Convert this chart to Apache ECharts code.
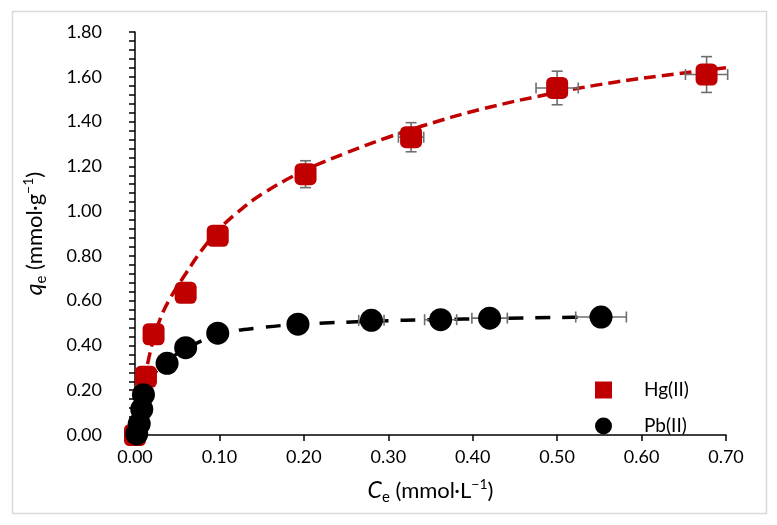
<!DOCTYPE html>
<html><head><meta charset="utf-8">
<script src="https://cdn.jsdelivr.net/npm/echarts/dist/echarts.min.js"></script>
<style>html,body{margin:0;padding:0;background:#fff}#c{width:777px;height:525px}</style>
</head><body><div id="c"></div>
<script>
// ---- data ----
const xTickLabels = ['0.00','0.10','0.20','0.30','0.40','0.50','0.60','0.70'];
const yTickLabels = ['0.00','0.20','0.40','0.60','0.80','1.00','1.20','1.40','1.60','1.80'];

const hgX    = [0.000, 0.013, 0.022, 0.060, 0.098, 0.202, 0.327, 0.500, 0.677];
const hgY    = [0.000, 0.260, 0.450, 0.635, 0.890, 1.165, 1.330, 1.550, 1.610];
const hgXErr = [0.000, 0.000, 0.000, 0.000, 0.000, 0.005, 0.015, 0.025, 0.025];
const hgYErr = [0.000, 0.000, 0.000, 0.000, 0.000, 0.060, 0.065, 0.075, 0.080];

const pbX    = [0.002, 0.005, 0.008, 0.010, 0.038, 0.060, 0.098, 0.193, 0.280, 0.362, 0.420, 0.552];
const pbY    = [0.005, 0.050, 0.115, 0.180, 0.320, 0.390, 0.455, 0.495, 0.512, 0.515, 0.522, 0.527];
const pbXErr = [0.000, 0.000, 0.000, 0.000, 0.000, 0.000, 0.000, 0.000, 0.015, 0.019, 0.021, 0.030];
const pbYErr = [0, 0, 0, 0, 0, 0, 0, 0, 0, 0, 0, 0];

const hgFitX = [0, 0.005, 0.01, 0.015, 0.022, 0.03, 0.04, 0.06, 0.08, 0.10, 0.12, 0.15, 0.20, 0.25, 0.30, 0.34, 0.41, 0.50, 0.57, 0.645, 0.70];
const hgFitY = [0, 0.12, 0.23, 0.32, 0.43, 0.52, 0.60, 0.72, 0.83, 0.92, 0.99, 1.075, 1.18, 1.26, 1.33, 1.38, 1.455, 1.53, 1.577, 1.615, 1.64];

const pbFitX = [0, 0.003, 0.006, 0.01, 0.02, 0.038, 0.06, 0.10, 0.15, 0.20, 0.28, 0.36, 0.42, 0.50, 0.555];
const pbFitY = [0, 0.06, 0.12, 0.18, 0.26, 0.33, 0.385, 0.45, 0.48, 0.495, 0.508, 0.516, 0.52, 0.525, 0.528];

// ---- build ----
const zip = (a, b) => a.map((v, i) => [v, b[i]]);
const zip4 = (a, b, c, d) => a.map((v, i) => [v, b[i], c[i], d[i]]);
const FONT = 'Lato';
const ERR = '#6e6e6e';

function errRender(params, api) {
  const x = api.value(0), y = api.value(1), dx = api.value(2), dy = api.value(3);
  const c = api.coord([x, y]);
  const cap = 5.5;
  const st = { stroke: ERR, lineWidth: 1.6 };
  const ch = [];
  if (dy > 0) {
    const t = api.coord([x, y + dy]), b = api.coord([x, y - dy]);
    ch.push({ type: 'line', shape: { x1: c[0], y1: t[1], x2: c[0], y2: b[1] }, style: st });
    ch.push({ type: 'line', shape: { x1: c[0] - cap, y1: t[1], x2: c[0] + cap, y2: t[1] }, style: st });
    ch.push({ type: 'line', shape: { x1: c[0] - cap, y1: b[1], x2: c[0] + cap, y2: b[1] }, style: st });
  }
  if (dx > 0) {
    const l = api.coord([x - dx, y]), r = api.coord([x + dx, y]);
    ch.push({ type: 'line', shape: { x1: l[0], y1: c[1], x2: r[0], y2: c[1] }, style: st });
    ch.push({ type: 'line', shape: { x1: l[0], y1: c[1] - cap, x2: l[0], y2: c[1] + cap }, style: st });
    ch.push({ type: 'line', shape: { x1: r[0], y1: c[1] - cap, x2: r[0], y2: c[1] + cap }, style: st });
  }
  return { type: 'group', children: ch };
}

const nameRich = {
  i: { fontFamily: FONT, fontSize: 23, fontStyle: 'italic', color: '#000', lineHeight: 28 },
  t: { fontFamily: FONT, fontSize: 22, color: '#000', lineHeight: 28 },
  sub: { fontFamily: FONT, fontSize: 15, color: '#000', lineHeight: 15, verticalAlign: 'bottom' },
  sup: { fontFamily: FONT, fontSize: 14, color: '#000', lineHeight: 14, verticalAlign: 'top' }
};

const chart = echarts.init(document.getElementById('c'), null, { renderer: 'canvas' });
chart.setOption({
  animation: false,
  backgroundColor: '#fff',
  graphic: [{
    type: 'rect', shape: { x: 12.5, y: 11.5, width: 754, height: 502 },
    style: { fill: 'none', stroke: '#d9d9d9', lineWidth: 1.5 }, z: -1
  }],
  grid: { left: 135, right: 51, top: 32, bottom: 90 },
  legend: {
    data: [
      { name: 'Hg(II)', icon: 'rect' },
      { name: 'Pb(II)', icon: 'circle' }
    ],
    orient: 'vertical', left: 590, top: 375,
    itemWidth: 17, itemHeight: 17, itemGap: 16,
    itemStyle: { opacity: 1 },
    textStyle: { fontFamily: FONT, fontSize: 19, color: '#000', lineHeight: 20, padding: [0, 0, 0, 27] }
  },
  xAxis: {
    type: 'value', min: 0, max: 0.7, interval: 0.1,
    axisLine: { lineStyle: { color: '#000', width: 1.5 } },
    axisTick: { show: true, inside: false, length: 6, lineStyle: { color: '#000', width: 1.5 } },
    splitLine: { show: false },
    axisLabel: { fontFamily: FONT, fontSize: 18, color: '#000', margin: 13,
      formatter: (v) => xTickLabels[Math.round(v / 0.1)] },
    name: '{i|C}{sub|e}{t| (mmol·L}{sup|−1}{t|)}',
    nameLocation: 'middle', nameGap: 42,
    nameTextStyle: { rich: nameRich }
  },
  yAxis: {
    type: 'value', min: 0, max: 1.8, interval: 0.2,
    axisLine: { show: true, lineStyle: { color: '#000', width: 1.5 } },
    axisTick: { show: true, inside: false, length: 6, lineStyle: { color: '#000', width: 1.5 } },
    minorTick: { show: true, splitNumber: 5, length: 6, lineStyle: { color: '#000', width: 1.5 } },
    splitLine: { show: false },
    axisLabel: { fontFamily: FONT, fontSize: 18, color: '#000', margin: 33,
      formatter: (v) => yTickLabels[Math.round(v / 0.2)] },
    name: '{i|q}{sub|e}{t| (mmol·g}{sup|−1}{t|)}',
    nameLocation: 'middle', nameGap: 86, nameRotate: 90,
    nameTextStyle: { rich: nameRich }
  },
  series: [
    { name: 'Hg fit', type: 'line', data: zip(hgFitX, hgFitY), smooth: 0.4, symbol: 'none',
      lineStyle: { color: '#C00000', width: 3.5, type: [12, 6] }, z: 1, silent: true },
    { name: 'Pb fit', type: 'line', data: zip(pbFitX, pbFitY), smooth: 0.4, symbol: 'none',
      lineStyle: { color: '#000', width: 3.5, type: [15, 12] }, z: 1, silent: true },
    { name: 'Hg err', type: 'custom', renderItem: errRender, data: zip4(hgX, hgY, hgXErr, hgYErr),
      encode: { x: 0, y: 1 }, z: 2, silent: true },
    { name: 'Pb err', type: 'custom', renderItem: errRender, data: zip4(pbX, pbY, pbXErr, pbYErr),
      encode: { x: 0, y: 1 }, z: 2, silent: true },
    { name: 'Hg(II)', type: 'scatter', data: zip(hgX, hgY), symbol: 'roundRect', symbolSize: 22,
      itemStyle: { color: '#C00000', opacity: 1 }, z: 3 },
    { name: 'Pb(II)', type: 'scatter', data: zip(pbX, pbY), symbol: 'circle', symbolSize: 23,
      itemStyle: { color: '#000', opacity: 1 }, z: 4 }
  ]
});
</script></body></html>
